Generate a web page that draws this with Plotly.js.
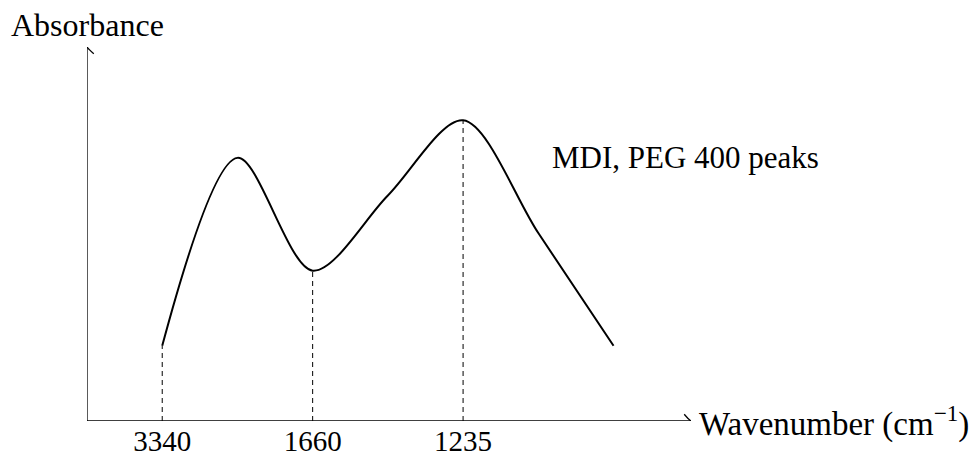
<!DOCTYPE html>
<html>
<head>
<meta charset="utf-8">
<script src="https://cdn.plot.ly/plotly-3.0.1.min.js"></script>
<style>html,body{margin:0;padding:0;background:#fff;}#chart{width:977px;height:460px;}</style>
</head>
<body>
<div id="chart"></div>
<script>
// Curve control points (TikZ-like units)
const curveX = [2, 4, 6, 8, 10, 12, 14];
const curveY = [2, 7, 4, 6, 8, 5, 2];
// Marked peaks
const peakX = [2, 6, 10];
const peakY = [2, 4, 8];
const peakLabels = ['3340', '1660', '1235'];
const xTitle = 'Wavenumber (cm<sup>\u22121</sup>)';
const yTitle = 'Absorbance';
const noteText = 'MDI, PEG 400 peaks';

const X_MAX = 16.06, Y_MAX = 9.95;
const FONT = 'Liberation Serif';

const traces = [];
peakX.forEach((px, i) => {
  traces.push({
    x: [px, px], y: [0, peakY[i]], mode: 'lines', type: 'scatter',
    line: {color: '#000', width: 1, dash: '5px,4px'}, hoverinfo: 'skip', showlegend: false
  });
});
traces.push({
  x: curveX, y: curveY, mode: 'lines', type: 'scatter',
  line: {color: '#000', width: 2, shape: 'spline', smoothing: 0.9},
  hoverinfo: 'skip', showlegend: false
});

function arrowPath(tx, ty, dir) {
  // dir 'x' -> pointing right, 'y' -> pointing up; units in data (37.6 px per unit)
  const L = 0.18, W = 0.18, c = 0.05;
  if (dir === 'x') {
    return `M ${tx - L},${ty + W} Q ${tx - c},${ty + 0.03} ${tx},${ty} Q ${tx - c},${ty - 0.03} ${tx - L},${ty - W}`;
  }
  return `M ${tx - W},${ty - L} Q ${tx - 0.03},${ty - c} ${tx},${ty} Q ${tx + 0.03},${ty - c} ${tx + W},${ty - L}`;
}

const layout = {
  width: 977, height: 460,
  margin: {l: 87, r: 977 - 87 - Math.round(X_MAX * 37.6), t: 460 - 39 - Math.round(Y_MAX * 37.6), b: 39},
  paper_bgcolor: '#fff', plot_bgcolor: '#fff',
  showlegend: false,
  xaxis: {
    range: [0, X_MAX], showgrid: false, zeroline: false, showline: false,
    tickmode: 'array', tickvals: peakX, ticktext: peakLabels, ticks: '',
    tickfont: {family: FONT, size: 29, color: '#000'}, fixedrange: true
  },
  yaxis: {range: [0, Y_MAX], visible: false, fixedrange: true},
  shapes: [
    {type: 'line', xref: 'x', yref: 'y', x0: 0, y0: 0, x1: X_MAX, y1: 0, line: {color: '#000', width: 1.3}},
    {type: 'line', xref: 'x', yref: 'y', x0: 0, y0: 0, x1: 0, y1: Y_MAX, line: {color: '#000', width: 1.3}},
    {type: 'path', xref: 'x', yref: 'y', path: arrowPath(X_MAX, 0, 'x'), line: {color: '#000', width: 1.3}},
    {type: 'path', xref: 'x', yref: 'y', path: arrowPath(0, Y_MAX, 'y'), line: {color: '#000', width: 1.3}}
  ],
  annotations: [
    {text: yTitle, xref: 'x', yref: 'y', x: 0, y: Y_MAX, xanchor: 'center', yanchor: 'bottom', yshift: 2,
     showarrow: false, font: {family: FONT, size: 32, color: '#000'}},
    {text: xTitle, xref: 'x', yref: 'y', x: X_MAX, y: 0, xanchor: 'left', yanchor: 'middle', xshift: 6,
     showarrow: false, font: {family: FONT, size: 33, color: '#000'}},
    {text: noteText, xref: 'x', yref: 'y', x: 12.3, y: 7.0, xanchor: 'left', yanchor: 'middle',
     showarrow: false, font: {family: FONT, size: 31, color: '#000'}}
  ]
};

Plotly.newPlot('chart', traces, layout, {displayModeBar: false, staticPlot: true});
</script>
</body>
</html>
